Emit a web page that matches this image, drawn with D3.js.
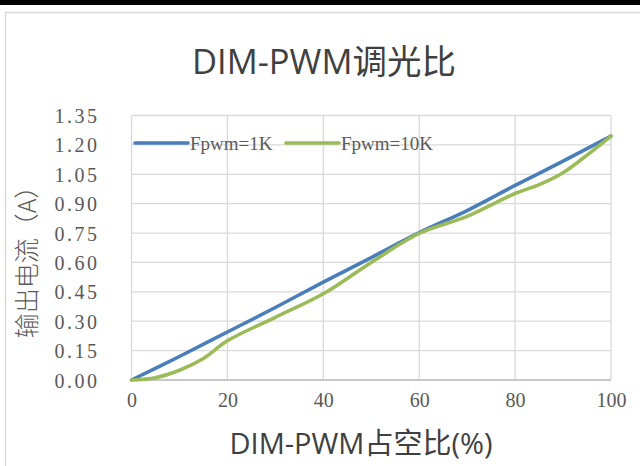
<!DOCTYPE html>
<html><head><meta charset="utf-8">
<script src="https://cdn.jsdelivr.net/npm/d3@7"></script>
<style>body{margin:0;background:#fff;}svg{display:block;}</style>
</head><body>
<svg id="c" width="640" height="466"></svg>
<script>
const title = "DIM-PWM调光比";
const xTitle = "DIM-PWM占空比(%)";
const yTitle = "输出电流（A）";
const seriesNames = ["Fpwm=1K", "Fpwm=10K"];
const duty1K = [0, 10, 20, 30, 40, 50, 60, 70, 80, 90, 100];
const current1K = [0, 0.12, 0.245, 0.37, 0.50, 0.625, 0.752, 0.865, 0.993, 1.117, 1.245];
const duty10K = [0, 5, 10, 15, 20, 30, 40, 50, 60, 70, 80, 85, 90, 95, 100];
const current10K = [0, 0.012, 0.05, 0.11, 0.20, 0.32, 0.44, 0.60, 0.748, 0.835, 0.952, 0.997, 1.058, 1.148, 1.245];
const xTicks = [0, 20, 40, 60, 80, 100];
const yTicks = [0, 0.15, 0.30, 0.45, 0.60, 0.75, 0.90, 1.05, 1.20, 1.35];
const colors = ["#4a7ebb", "#9bbb59"];

const svg = d3.select("#c");
svg.append("rect").attr("x",0).attr("y",0).attr("width",640).attr("height",5).attr("fill","#000");
svg.append("rect").attr("x",5.5).attr("y",12.5).attr("width",700).attr("height",500)
  .attr("fill","#fff").attr("stroke","#d9d9d9").attr("stroke-width",1.5);

const x = d3.scaleLinear().domain([0,100]).range([131.5,611]);
const y = d3.scaleLinear().domain([0,1.35]).range([380,115.5]);

// gridlines
svg.append("g").selectAll("line.h").data(yTicks).join("line")
  .attr("x1",x(0)).attr("x2",x(100)).attr("y1",d=>y(d)).attr("y2",d=>y(d))
  .attr("stroke","#d9d9d9").attr("stroke-width",1.3);
svg.append("g").selectAll("line.v").data(xTicks).join("line")
  .attr("x1",d=>x(d)).attr("x2",d=>x(d)).attr("y1",y(0)).attr("y2",y(1.35))
  .attr("stroke","#d9d9d9").attr("stroke-width",1.3);
svg.append("line").attr("x1",x(0)).attr("x2",x(100)).attr("y1",y(0)).attr("y2",y(0))
  .attr("stroke","#bfbfbf").attr("stroke-width",1.3);

// axes labels via d3 axes
const yAxis = svg.append("g").attr("transform",`translate(${x(0)},0)`)
  .call(d3.axisLeft(y).tickValues(yTicks).tickFormat(d3.format(".2f")).tickSize(0).tickPadding(32));
yAxis.select(".domain").remove();
yAxis.selectAll("text").attr("font-family","'Liberation Serif', serif").attr("font-size",20)
  .attr("fill","#595959").attr("letter-spacing","2.5px").attr("dy","0.35em");

const xAxis = svg.append("g").attr("transform",`translate(0,${y(0)})`)
  .call(d3.axisBottom(x).tickValues(xTicks).tickFormat(d3.format("d")).tickSize(0).tickPadding(20));
xAxis.select(".domain").remove();
xAxis.selectAll("text").attr("font-family","'Liberation Serif', serif").attr("font-size",20)
  .attr("fill","#595959").attr("dy","0.35em");

// lines
const line = d3.line().x(d=>x(d[0])).y(d=>y(d[1])).curve(d3.curveCatmullRom.alpha(0.5));
const data = [d3.zip(duty1K,current1K), d3.zip(duty10K,current10K)];
svg.append("g").selectAll("path").data(data).join("path")
  .attr("d",line).attr("fill","none").attr("stroke",(d,i)=>colors[i])
  .attr("stroke-width",3.6).attr("stroke-linecap","round").attr("stroke-linejoin","round");

// legend
const legX = [135, 286];
const lg = svg.append("g").selectAll("g").data(seriesNames).join("g")
  .attr("transform",(d,i)=>`translate(${legX[i]},143)`);
lg.append("line").attr("x1",0).attr("x2",53).attr("stroke",(d,i)=>colors[i])
  .attr("stroke-width",3.6).attr("stroke-linecap","round");
lg.append("text").attr("x",55).attr("dy","0.35em").text(d=>d)
  .attr("font-family","'Liberation Serif', serif").attr("font-size",19).attr("fill","#595959");

// titles
svg.append("text").attr("x",324).attr("y",74).attr("text-anchor","middle")
  .attr("font-family","'Open Sans','Noto Sans CJK SC',sans-serif").attr("font-size",34.5)
  .attr("fill","#404040").text(title);
svg.append("text").attr("x",361).attr("y",454).attr("text-anchor","middle")
  .attr("font-family","'Open Sans','Noto Sans CJK SC',sans-serif").attr("font-size",29)
  .attr("fill","#404040").text(xTitle);
svg.append("text").attr("transform","translate(36,256) rotate(-90)").attr("text-anchor","middle")
  .attr("font-family","'Noto Sans CJK SC',sans-serif").attr("font-size",25).attr("font-weight",300)
  .attr("fill","#595959").text(yTitle);
</script>
</body></html>
